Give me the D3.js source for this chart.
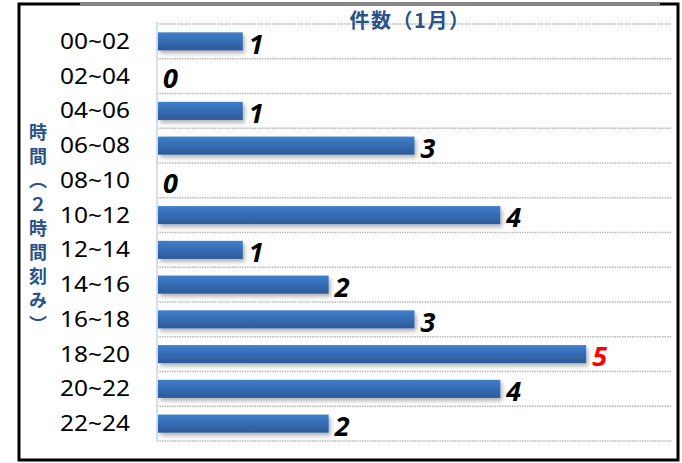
<!DOCTYPE html>
<html>
<head>
<meta charset="utf-8">
<script src="https://cdn.jsdelivr.net/npm/d3@7"></script>
<style>
  body { margin: 0; background: #fff; }
</style>
</head>
<body>
<div id="chart"></div>
<script>
// time slots (2 hours each) and counts for January
const slots = ["00~02", "02~04", "04~06", "06~08", "08~10", "10~12",
               "12~14", "14~16", "16~18", "18~20", "20~22", "22~24"];
const counts = [1, 0, 1, 3, 0, 4, 1, 2, 3, 5, 4, 2];
const chartTitle = "件数（1月）";
const axisTitle = "時間（２時間刻み）";

const W = 682, H = 463;
const margin = {top: 24, right: 10, bottom: 22, left: 157};

const svg = d3.select("#chart").append("svg")
  .attr("width", W)
  .attr("height", H);

// gradient for the bars
const defs = svg.append("defs");
const grad = defs.append("linearGradient")
  .attr("id", "barGrad")
  .attr("x1", 0).attr("y1", 0).attr("x2", 0).attr("y2", 1);
grad.append("stop").attr("offset", "0%").attr("stop-color", "#3f7fcc");
grad.append("stop").attr("offset", "100%").attr("stop-color", "#2b5a99");

const shadow = defs.append("filter").attr("id", "shadow")
  .attr("x", "-5%").attr("y", "-20%").attr("width", "115%").attr("height", "160%");
shadow.append("feDropShadow")
  .attr("dx", 2).attr("dy", 3).attr("stdDeviation", 2)
  .attr("flood-color", "#000").attr("flood-opacity", 0.3);

// outer frame
svg.append("rect")
  .attr("x", 19).attr("y", 4)
  .attr("width", 659).attr("height", 456)
  .attr("fill", "none")
  .attr("stroke", "#000")
  .attr("stroke-width", 3);
svg.append("line")
  .attr("x1", 80).attr("x2", 660).attr("y1", 4).attr("y2", 4)
  .attr("stroke", "#8a8a8a").attr("stroke-width", 3);

const x = d3.scaleLinear()
  .domain([0, 6])
  .range([margin.left, 672]);

const y = d3.scaleBand()
  .domain(slots)
  .range([margin.top, 441])
  .paddingInner(0.48)
  .paddingOuter(0.24);

// dotted gridlines between categories
const gridYs = d3.range(slots.length + 1).map(i => margin.top + i * (441 - margin.top) / slots.length);
svg.append("g")
  .selectAll("line")
  .data(gridYs)
  .join("line")
  .attr("x1", margin.left).attr("x2", 672)
  .attr("y1", d => d).attr("y2", d => d)
  .attr("stroke", "#b8b8b8")
  .attr("stroke-width", 1.3)
  .attr("stroke-dasharray", "1.5,1");

// vertical axis line
svg.append("line")
  .attr("x1", margin.left).attr("x2", margin.left)
  .attr("y1", margin.top - 2).attr("y2", 441)
  .attr("stroke", "#d4dff0")
  .attr("stroke-width", 2);

// category labels
svg.append("g")
  .selectAll("text")
  .data(slots)
  .join("text")
  .attr("x", 60)
  .attr("y", d => y(d) + y.bandwidth() / 2)
  .attr("dy", "0.36em")
  .attr("font-family", "Noto Sans, sans-serif")
  .attr("font-size", 21)
  .attr("textLength", 70)
  .attr("lengthAdjust", "spacingAndGlyphs")
  .attr("fill", "#000")
  .text(d => d);

// bars
svg.append("g")
  .selectAll("rect")
  .data(counts)
  .join("rect")
  .attr("x", x(0) + 1)
  .attr("y", (d, i) => y(slots[i]))
  .attr("width", d => Math.max(0, x(d) - x(0) - 1))
  .attr("height", y.bandwidth())
  .attr("fill", "url(#barGrad)")
  .attr("filter", "url(#shadow)");

// value labels
const maxVal = d3.max(counts);
svg.append("g")
  .selectAll("text")
  .data(counts)
  .join("text")
  .attr("x", d => x(d) + 6)
  .attr("y", (d, i) => y(slots[i]) + y.bandwidth() / 2)
  .attr("dy", "0.45em")
  .attr("font-family", "Noto Sans, sans-serif")
  .attr("font-size", 27)
  .attr("font-weight", "bold")
  .attr("font-style", "italic")
  .attr("fill", d => d === maxVal ? "#ff0000" : "#000")
  .text(d => d);

// chart title
svg.append("text")
  .attr("x", 410)
  .attr("y", 28)
  .attr("text-anchor", "middle")
  .attr("font-family", "Noto Sans CJK JP, sans-serif")
  .attr("font-size", 20)
  .attr("font-weight", "bold")
  .attr("letter-spacing", 1.5)
  .attr("fill", "#2a5189")
  .text(chartTitle);

// vertical axis title
svg.append("text")
  .attr("x", 38)
  .attr("y", 231)
  .attr("text-anchor", "middle")
  .attr("font-family", "Noto Sans CJK JP, sans-serif")
  .attr("font-size", 18)
  .attr("font-weight", "bold")
  .attr("letter-spacing", 6)
  .attr("fill", "#2a5189")
  .style("writing-mode", "vertical-rl")
  .text(axisTitle);
</script>
</body>
</html>
